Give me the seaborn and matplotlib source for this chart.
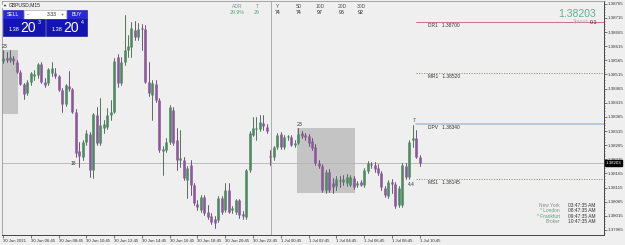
import numpy as np
import pandas as pd
import matplotlib
matplotlib.use("Agg")
import matplotlib.pyplot as plt
from matplotlib.patches import Rectangle, Polygon
import seaborn as sns

# ---------------- data ----------------
opens = [1.38563, 1.38574, 1.38567, 1.38574, 1.38560, 1.38524, 1.38482, 1.38449, 1.38489, 1.38510,
         1.38513, 1.38553, 1.38489, 1.38485, 1.38520, 1.38520, 1.38510, 1.38460, 1.38411, 1.38475,
         1.38464, 1.38383, 1.38244, 1.38223, 1.38276, 1.38305, 1.38177, 1.38372, 1.38272, 1.38326,
         1.38329, 1.38372, 1.38383, 1.38577, 1.38485, 1.38560, 1.38602, 1.38612, 1.38673, 1.38648,
         1.38680, 1.38676, 1.38489, 1.38442, 1.38482, 1.38425, 1.38248, 1.38248, 1.38276, 1.38390,
         1.38283, 1.38213, 1.38213, 1.38142, 1.38195, 1.38124, 1.38057, 1.38036, 1.38081, 1.38029,
         1.38015, 1.38004, 1.38000, 1.38078, 1.38036, 1.38106, 1.38036, 1.38029, 1.38071, 1.38022,
         1.38011, 1.38177, 1.38301, 1.38322, 1.38322, 1.38343, 1.38329, 1.38227, 1.38223, 1.38258,
         1.38305, 1.38258, 1.38294, 1.38294, 1.38265, 1.38272, 1.38305, 1.38301, 1.38298, 1.38279,
         1.38258, 1.38202, 1.38192, 1.38106, 1.38170, 1.38131, 1.38121, 1.38142, 1.38135, 1.38131,
         1.38124, 1.38149, 1.38124, 1.38135, 1.38124, 1.38173, 1.38199, 1.38195, 1.38185, 1.38166,
         1.38114, 1.38085, 1.38131, 1.38128, 1.38053, 1.38053, 1.38192, 1.38152, 1.38283, 1.38291,
         1.38223]
highs = [1.38602, 1.38595, 1.38602, 1.38581, 1.38567, 1.38531, 1.38485, 1.38496, 1.38524, 1.38531,
         1.38556, 1.38560, 1.38503, 1.38539, 1.38560, 1.38539, 1.38513, 1.38468, 1.38482, 1.38527,
         1.38468, 1.38393, 1.38276, 1.38283, 1.38319, 1.38312, 1.38379, 1.38400, 1.38432, 1.38354,
         1.38397, 1.38425, 1.38574, 1.38588, 1.38577, 1.38726, 1.38655, 1.38701, 1.38704, 1.38697,
         1.38694, 1.38690, 1.38560, 1.38496, 1.38496, 1.38432, 1.38262, 1.38291, 1.38407, 1.38400,
         1.38326, 1.38319, 1.38223, 1.38192, 1.38213, 1.38131, 1.38071, 1.38088, 1.38088, 1.38053,
         1.38025, 1.38015, 1.38085, 1.38085, 1.38131, 1.38131, 1.38050, 1.38074, 1.38074, 1.38032,
         1.38181, 1.38315, 1.38365, 1.38365, 1.38372, 1.38372, 1.38340, 1.38248, 1.38262, 1.38308,
         1.38312, 1.38301, 1.38301, 1.38301, 1.38283, 1.38326, 1.38315, 1.38308, 1.38305, 1.38291,
         1.38269, 1.38213, 1.38199, 1.38177, 1.38181, 1.38149, 1.38156, 1.38156, 1.38159, 1.38163,
         1.38159, 1.38156, 1.38138, 1.38142, 1.38185, 1.38209, 1.38206, 1.38206, 1.38199, 1.38173,
         1.38121, 1.38142, 1.38145, 1.38135, 1.38121, 1.38202, 1.38202, 1.38283, 1.38336, 1.38319,
         1.38230]
lows = [1.38556, 1.38560, 1.38560, 1.38553, 1.38520, 1.38478, 1.38428, 1.38442, 1.38478, 1.38496,
        1.38503, 1.38485, 1.38471, 1.38478, 1.38510, 1.38503, 1.38456, 1.38383, 1.38404, 1.38456,
        1.38379, 1.38223, 1.38188, 1.38213, 1.38265, 1.38152, 1.38149, 1.38265, 1.38265, 1.38308,
        1.38322, 1.38354, 1.38379, 1.38471, 1.38478, 1.38549, 1.38577, 1.38577, 1.38637, 1.38637,
        1.38602, 1.38485, 1.38439, 1.38354, 1.38418, 1.38241, 1.38159, 1.38241, 1.38269, 1.38265,
        1.38177, 1.38188, 1.38142, 1.38078, 1.38088, 1.38053, 1.38036, 1.38029, 1.38018, 1.38004,
        1.37986, 1.37972, 1.37993, 1.38022, 1.38029, 1.38025, 1.38025, 1.38022, 1.38008, 1.38004,
        1.38004, 1.38170, 1.38298, 1.38283, 1.38315, 1.38319, 1.38308, 1.38195, 1.38213, 1.38251,
        1.38251, 1.38251, 1.38283, 1.38262, 1.38258, 1.38269, 1.38291, 1.38283, 1.38262, 1.38248,
        1.38195, 1.38185, 1.38099, 1.38095, 1.38099, 1.38095, 1.38106, 1.38117, 1.38124, 1.38121,
        1.38121, 1.38110, 1.38117, 1.38121, 1.38117, 1.38166, 1.38185, 1.38170, 1.38159, 1.38106,
        1.38081, 1.38078, 1.38095, 1.38043, 1.38046, 1.38046, 1.38145, 1.38145, 1.38258, 1.38220,
        1.38192]
closes = [1.38574, 1.38567, 1.38577, 1.38563, 1.38524, 1.38482, 1.38446, 1.38489, 1.38520, 1.38517,
          1.38553, 1.38489, 1.38478, 1.38535, 1.38539, 1.38510, 1.38460, 1.38411, 1.38478, 1.38464,
          1.38383, 1.38237, 1.38227, 1.38276, 1.38308, 1.38177, 1.38376, 1.38272, 1.38336, 1.38340,
          1.38372, 1.38383, 1.38563, 1.38485, 1.38560, 1.38602, 1.38616, 1.38680, 1.38648, 1.38676,
          1.38676, 1.38489, 1.38449, 1.38485, 1.38425, 1.38248, 1.38251, 1.38276, 1.38400, 1.38272,
          1.38213, 1.38220, 1.38149, 1.38185, 1.38124, 1.38060, 1.38046, 1.38081, 1.38025, 1.38011,
          1.37993, 1.37989, 1.38078, 1.38029, 1.38106, 1.38029, 1.38039, 1.38071, 1.38018, 1.38015,
          1.38177, 1.38308, 1.38326, 1.38326, 1.38347, 1.38333, 1.38315, 1.38223, 1.38258, 1.38301,
          1.38258, 1.38294, 1.38298, 1.38265, 1.38272, 1.38305, 1.38301, 1.38294, 1.38272, 1.38255,
          1.38202, 1.38192, 1.38106, 1.38170, 1.38106, 1.38117, 1.38145, 1.38138, 1.38145, 1.38152,
          1.38152, 1.38117, 1.38131, 1.38124, 1.38177, 1.38202, 1.38195, 1.38181, 1.38166, 1.38117,
          1.38088, 1.38135, 1.38128, 1.38050, 1.38114, 1.38195, 1.38152, 1.38276, 1.38291, 1.38223,
          1.38203]

time_labels = ["30 Jun 2021", "30 Jun 06:45", "30 Jun 08:45", "30 Jun 10:45", "30 Jun 12:45",
               "30 Jun 14:45", "30 Jun 16:45", "30 Jun 18:45", "30 Jun 20:45", "30 Jun 22:45",
               "1 Jul 00:45", "1 Jul 02:45", "1 Jul 04:45", "1 Jul 06:45", "1 Jul 08:45", "1 Jul 10:45"]
price_ticks = [1.37965, 1.38015, 1.38065, 1.38115, 1.38165, 1.38215, 1.38265, 1.38315, 1.38365,
               1.38415, 1.38465, 1.38515, 1.38565, 1.38615, 1.38665, 1.38715, 1.38765]

pivot_names = ["DR1", "MR1", "DPV", "MS1"]
pivot_values = [1.38700, 1.38520, 1.38340, 1.38145]

zone_start = [0, 85]
zone_end = [4, 101]
zone_high = [1.38602, 1.38326]
zone_low = [1.38376, 1.38096]
zone_labels = ["23", "23"]

current_price = 1.38203
bid_big, ask_big = "20", "20"
bid_sup, ask_sup = "3", "4"
lot = "3.33"
adr_headers = ["ADR", "T", "Y", "5D", "10D", "20D", "30D"]
adr_values = ["29.9%", "29", "74", "74", "97", "96", "92"]
clock_names = ["New York", "* London", "* Frankfurt", "Broker"]
clock_times = ["03:47:35 AM", "08:47:35 AM", "09:47:35 AM", "10:47:35 AM"]

# ---------------- figure ----------------
W, H = 625, 245
sns.set_theme(style="white")
plt.rcParams["font.family"] = ["Liberation Sans", "DejaVu Sans"]
BG = "#efefef"
fig = plt.figure(figsize=(W / 100, H / 100), dpi=100, facecolor=BG)
ax = fig.add_axes([2 / W, 10 / H, 602 / W, 234 / H])
ax.set_facecolor(BG)

n = len(opens)
bars = np.arange(n)
o, h, l, c = map(np.array, (opens, highs, lows, closes))
direction = np.where(c >= o, "bull", "bear")

wick_df = pd.DataFrame({"bar": np.repeat(bars, 2),
                        "price": np.column_stack([l, h]).ravel(),
                        "dir": np.repeat(direction, 2)})
top = np.maximum(o, c)
bot = np.minimum(o, c)
pad = np.where(top - bot < 0.00004, 0.00002, 0.0)
body_df = pd.DataFrame({"bar": np.repeat(bars, 2),
                        "price": np.column_stack([bot - pad, top + pad]).ravel(),
                        "dir": np.repeat(direction, 2)})

bull_c, bear_c = "#4f8a62", "#8c5a9c"
sns.lineplot(data=wick_df, x="bar", y="price", units="bar", estimator=None, hue="dir",
             palette={"bull": "#3b5f47", "bear": "#5a3d66"}, linewidth=0.6, legend=False,
             sort=False, ax=ax, zorder=3)
sns.lineplot(data=body_df, x="bar", y="price", units="bar", estimator=None, hue="dir",
             palette={"bull": bull_c, "bear": bear_c}, linewidth=1.9, legend=False,
             sort=False, ax=ax, zorder=4, solid_capstyle="butt")

ax.set_xlim(-0.3, 173.1)
ax.set_ylim(1.37947, 1.38775)
ax.set_xlabel("")
ax.set_ylabel("")

# zones
for s, e, hi, lo, lab in zip(zone_start, zone_end, zone_high, zone_low, zone_labels):
    ax.add_patch(Rectangle((s - 0.4, lo), e - s + 0.8, hi - lo, facecolor="#c4c4c4",
                           edgecolor="none", zorder=1))
    ax.text(s - 0.4, hi + 0.00003, lab, fontsize=3.8, color="#333333", ha="left", va="bottom")

# day separator
ax.axvline(77.15, color="#555555", lw=0.6, ls=(0, (1.2, 1.2)), zorder=2)

# current price line
ax.axhline(current_price, color="#b4b4b4", lw=0.6, zorder=2)

# pivot lines
piv_style = {"DR1": dict(color="#c87080", lw=0.7, ls="-"),
             "MR1": dict(color="#8a9070", lw=0.6, ls=(0, (1.5, 1.5))),
             "DPV": dict(color="#b8c8dc", lw=1.4, ls="-"),
             "MS1": dict(color="#8a9070", lw=0.6, ls=(0, (1.5, 1.5)))}
for name, val in zip(pivot_names, pivot_values):
    ax.plot([119, 173.1], [val, val], zorder=2, **piv_style[name])
    ax.text(122.5, val - 0.00004, f"{name}   {val:.5f}", fontsize=3.5, color="#333333",
            ha="left", va="top")

# small markers
ax.text(20.3, 1.38191, "18", fontsize=3.5, color="#333333", ha="center", va="bottom")
ax.text(116.6, 1.38135, "4.4", fontsize=3.5, color="#333333", ha="left", va="top")
ax.text(118.3, 1.38345, "7", fontsize=3.5, color="#333333", ha="center", va="bottom")

# axes styling
for sp in ["left", "top"]:
    ax.spines[sp].set_color("#9a9a9a")
    ax.spines[sp].set_linewidth(0.6)
for sp in ["right", "bottom"]:
    ax.spines[sp].set_color("#444444")
    ax.spines[sp].set_linewidth(0.7)
ax.yaxis.tick_right()
ax.set_yticks(price_ticks, [f"{p:.5f}" for p in price_ticks])
ax.set_yticks(np.arange(1.37955, 1.38776, 0.0001), minor=True)
ax.tick_params(axis="y", which="major", right=True, left=False, length=2, width=0.5,
               color="#444444", labelsize=3.2, pad=0.8, labelcolor="#333333")
ax.tick_params(axis="y", which="minor", right=True, left=False, length=1.0, width=0.4,
               color="#444444")
ax.set_xticks(np.arange(0, 8 * len(time_labels), 8), time_labels)
ax.tick_params(axis="x", bottom=True, length=2, width=0.5, color="#444444", labelsize=3.1,
               pad=0.8, labelcolor="#333333")
for t in ax.get_xticklabels():
    t.set_ha("left")

ax.text(1.003, current_price, f"{current_price:.5f}", transform=ax.get_yaxis_transform(),
        fontsize=3.2, color="white", ha="left", va="center", zorder=10,
        bbox=dict(boxstyle="square,pad=0.2", fc="black", ec="black"), clip_on=False)

# ---------------- overlays (pixel helpers) ----------------
def prect(x0, y0, x1, y1, color, **kw):
    fig.add_artist(Rectangle((x0 / W, 1 - y1 / H), (x1 - x0) / W, (y1 - y0) / H,
                             transform=fig.transFigure, facecolor=color, **kw))

def ptext(x, y, s, **kw):
    kw.setdefault("va", "center")
    fig.text(x / W, 1 - y / H, s, **kw)

# title
fig.add_artist(Polygon([[2 / W, 1 - 7 / H], [5 / W, 1 - 3 / H], [8 / W, 1 - 7 / H]],
                       closed=True, transform=fig.transFigure, facecolor="#333333"))
ptext(9, 5, "GBPUSD,M15", fontsize=3.6, color="#222222")

# trade panel
prect(3, 10, 23, 19, "#2a2ad0", edgecolor="#1010a0", lw=0.4)
ptext(13, 14.5, "SELL", fontsize=3.7, color="white", ha="center")
prect(24, 10, 66, 19, "white", edgecolor="#9a9a9a", lw=0.4)
ptext(28, 14.5, "-", fontsize=3.7, color="#333333", ha="center")
ptext(52, 14.5, lot, fontsize=3.7, color="#222222", ha="center")
ptext(62, 14.5, "+", fontsize=3.7, color="#333333", ha="center")
prect(67, 10, 87, 19, "#2a2ad0", edgecolor="#1010a0", lw=0.4)
ptext(77, 14.5, "BUY", fontsize=3.7, color="white", ha="center")
prect(3, 19, 45, 36, "#1414b4", edgecolor="#0a0a80", lw=0.4)
prect(46, 19, 87, 36, "#1414b4", edgecolor="#0a0a80", lw=0.4)
ptext(14, 29.5, "1.38", fontsize=4, color="white", ha="center")
ptext(28.5, 27.5, bid_big, fontsize=10, color="white", ha="center")
ptext(39.5, 22, bid_sup, fontsize=3.8, color="white", ha="center")
ptext(57, 29.5, "1.38", fontsize=4, color="white", ha="center")
ptext(71.5, 27.5, ask_big, fontsize=10, color="white", ha="center")
ptext(82.5, 22, ask_sup, fontsize=3.8, color="white", ha="center")

# ADR table
adr_x = [237, 257, 278, 299, 320, 342, 361]
for i, (hd, vv, xx) in enumerate(zip(adr_headers, adr_values, adr_x)):
    ptext(xx, 6, hd, fontsize=3.6, color="#7a9a8a" if i < 2 else "#555555", ha="center")
    ptext(xx, 13, vv, fontsize=3.8, color="#4faa7a" if i < 2 else "#222222", ha="center")

# price + spread
ptext(596, 14, f"{current_price:.5f}", fontsize=7.5, color="#5fb08a", ha="right")
ptext(588, 22, "Spread", fontsize=3.4, color="#b0b0b0", ha="right")
ptext(597, 22, "0.1", fontsize=3.8, color="#222222", ha="right")

# clocks
clock_colors = ["#8a8a8a", "#4faa7a", "#4faa7a", "#8a8a8a"]
for i, (nm, tm, cc) in enumerate(zip(clock_names, clock_times, clock_colors)):
    yy = 205 + i * 5.5
    ptext(560, yy, nm, fontsize=3.5, color=cc, ha="right")
    ptext(568, yy, tm, fontsize=3.5, color="#333333", ha="left")

fig.savefig("out.png", dpi=100, facecolor=BG)
